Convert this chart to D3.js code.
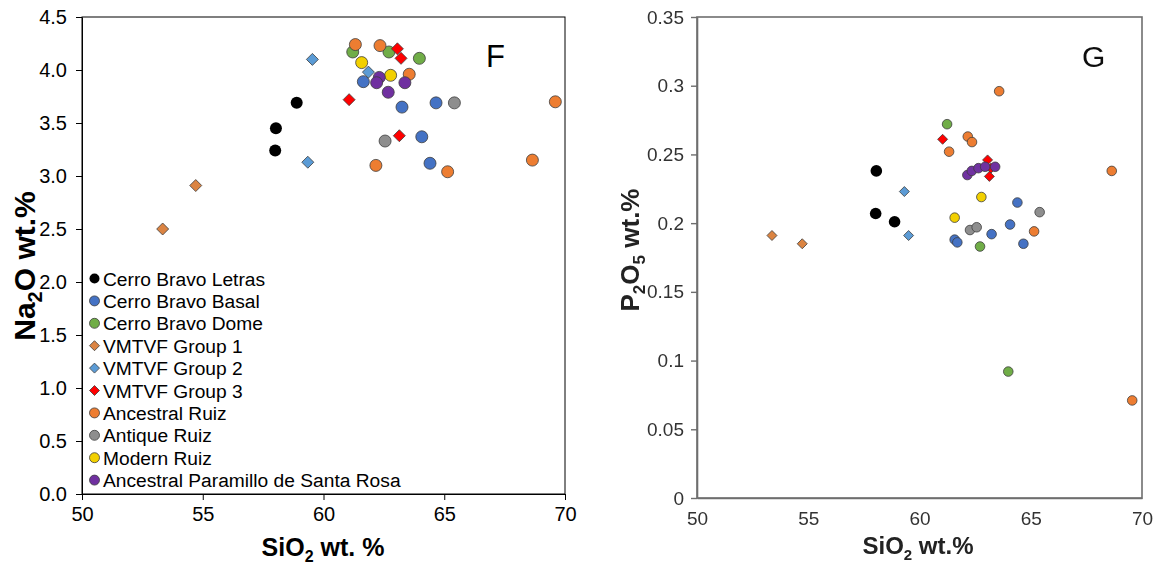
<!DOCTYPE html>
<html>
<head>
<meta charset="utf-8">
<script src="https://cdn.jsdelivr.net/npm/d3@7"></script>
<style>
  html, body { margin: 0; padding: 0; background: #fff; }
  svg { display: block; font-family: "Liberation Sans", Arial, sans-serif; }
</style>
</head>
<body>
<svg id="fig" width="1160" height="567"></svg>
<script>
// ---- Series definitions ----
const seriesNames = [
  "Cerro Bravo Letras", "Cerro Bravo Basal", "Cerro Bravo Dome",
  "VMTVF Group 1", "VMTVF Group 2", "VMTVF Group 3",
  "Ancestral Ruiz", "Antique Ruiz", "Modern Ruiz",
  "Ancestral Paramillo de Santa Rosa"
];
const seriesColors = [
  "#000000", "#4472C4", "#70AD47",
  "#DB8443", "#5B9BD5", "#FF0000",
  "#ED7D31", "#8E8E8E", "#F2D000",
  "#7030A0"
];
const seriesShapes = [
  "circle", "circle", "circle",
  "diamond", "diamond", "diamond",
  "circle", "circle", "circle",
  "circle"
];

// ---- Panel F: SiO2 vs Na2O (wt.%) ----
const letrasNa2O    = [[58.89, 3.69], [58.03, 3.45], [58.00, 3.24]];
const basalNa2O     = [[61.65, 3.89], [63.25, 3.65], [64.66, 3.69], [64.07, 3.37], [64.41, 3.12]];
const domeNa2O      = [[61.21, 4.17], [62.71, 4.17], [63.97, 4.11]];
const group1Na2O    = [[54.71, 2.91], [53.34, 2.50]];
const group2Na2O    = [[59.35, 3.13], [61.86, 3.98], [59.54, 4.10]];
const group3Na2O    = [[63.06, 4.20], [63.21, 4.11], [61.06, 3.72], [63.14, 3.38]];
const ancRuizNa2O   = [[61.32, 4.24], [62.34, 4.23], [63.55, 3.96], [62.17, 3.10], [65.14, 3.04], [69.60, 3.70], [68.65, 3.15]];
const antRuizNa2O   = [[65.42, 3.69], [62.55, 3.33]];
const modRuizNa2O   = [[61.58, 4.07], [62.78, 3.95]];
const paramilloNa2O = [[62.31, 3.93], [62.20, 3.88], [63.37, 3.88], [62.68, 3.79]];

// ---- Panel G: SiO2 vs P2O5 (wt.%) ----
const letrasP2O5    = [[58.06, 0.238], [58.03, 0.207], [58.88, 0.201]];
const basalP2O5     = [[61.58, 0.188], [61.70, 0.186], [63.24, 0.192], [64.67, 0.185], [64.07, 0.199], [64.40, 0.215]];
const domeP2O5      = [[61.24, 0.272], [62.72, 0.183], [63.99, 0.092]];
const group1P2O5    = [[53.37, 0.191], [54.73, 0.185]];
const group2P2O5    = [[59.32, 0.223], [59.51, 0.191]];
const group3P2O5    = [[61.04, 0.261], [63.06, 0.246], [63.21, 0.240], [63.14, 0.234]];
const ancRuizP2O5   = [[62.17, 0.263], [61.33, 0.252], [62.36, 0.259], [63.58, 0.296], [65.15, 0.194], [68.64, 0.238], [69.56, 0.071]];
const antRuizP2O5   = [[62.27, 0.195], [62.57, 0.197], [65.40, 0.208]];
const modRuizP2O5   = [[61.58, 0.204], [62.78, 0.219]];
const paramilloP2O5 = [[62.15, 0.235], [62.35, 0.238], [62.65, 0.240], [62.95, 0.241], [63.40, 0.241]];

// ---- Axis ticks ----
const xTicks = [50, 55, 60, 65, 70];
const xTickLabels = ["50", "55", "60", "65", "70"];
const na2oTicks = [0, 0.5, 1, 1.5, 2, 2.5, 3, 3.5, 4, 4.5];
const na2oTickLabels = ["0.0", "0.5", "1.0", "1.5", "2.0", "2.5", "3.0", "3.5", "4.0", "4.5"];
const p2o5Ticks = [0, 0.05, 0.1, 0.15, 0.2, 0.25, 0.3, 0.35];
const p2o5TickLabels = ["0", "0.05", "0.1", "0.15", "0.2", "0.25", "0.3", "0.35"];

const na2oSets = [letrasNa2O, basalNa2O, domeNa2O, group1Na2O, group2Na2O, group3Na2O,
                  ancRuizNa2O, antRuizNa2O, modRuizNa2O, paramilloNa2O];
const p2o5Sets = [letrasP2O5, basalP2O5, domeP2O5, group1P2O5, group2P2O5, group3P2O5,
                  ancRuizP2O5, antRuizP2O5, modRuizP2O5, paramilloP2O5];

const svg = d3.select("#fig");
const defs = svg.append("defs");
defs.append("filter").attr("id", "soft")
  .attr("x", "-5%").attr("y", "-5%").attr("width", "110%").attr("height", "110%")
  .append("feGaussianBlur").attr("stdDeviation", 0.75);

// square turned 45 degrees
function diamondPath(h) {
  return `M0,${-h}L${h},0L0,${h}L${-h},0Z`;
}

function drawMarker(g, shape, color, x, y, r, outline) {
  if (shape === "diamond") {
    g.append("path")
      .attr("d", diamondPath(r))
      .attr("transform", `translate(${x},${y})`)
      .attr("fill", color)
      .attr("stroke", outline ? "#3d3d3d" : "none")
      .attr("stroke-width", 0.8);
  } else {
    g.append("circle")
      .attr("cx", x).attr("cy", y).attr("r", r)
      .attr("fill", color)
      .attr("stroke", (outline && color !== "#000000") ? "#3d3d3d" : "none")
      .attr("stroke-width", 0.8);
  }
}

// ================= Panel F =================
const xF = d3.scaleLinear().domain([50, 70]).range([82, 565]);
const yF = d3.scaleLinear().domain([0, 4.5]).range([494, 17]);
const gF = svg.append("g");

gF.append("rect")
  .attr("x", xF(50)).attr("y", yF(4.5))
  .attr("width", xF(70) - xF(50)).attr("height", yF(0) - yF(4.5))
  .attr("fill", "none").attr("stroke", "#000").attr("stroke-width", 1);

const axFx = gF.append("g").attr("transform", `translate(0,${yF(0)})`)
  .call(d3.axisBottom(xF).tickValues(xTicks)
    .tickFormat((d, i) => xTickLabels[i]).tickSize(6).tickPadding(7).tickSizeOuter(0));
const axFy = gF.append("g").attr("transform", `translate(${xF(50)},0)`)
  .call(d3.axisLeft(yF).tickValues(na2oTicks)
    .tickFormat((d, i) => na2oTickLabels[i]).tickSize(6).tickPadding(9).tickSizeOuter(0));
[axFx, axFy].forEach(a => {
  a.select(".domain").attr("stroke", "#000");
  a.selectAll(".tick line").attr("stroke", "#000");
  a.selectAll(".tick text").attr("font-size", 20).attr("fill", "#000")
    .attr("font-family", "Liberation Sans, Arial, sans-serif");
});

// axis titles
gF.append("text")
  .attr("transform", `translate(35,${266}) rotate(-90)`)
  .attr("text-anchor", "middle").attr("font-size", 30).attr("font-weight", "bold")
  .call(t => {
    t.append("tspan").text("Na");
    t.append("tspan").text("2").attr("font-size", 20).attr("dy", 7);
    t.append("tspan").text("O wt.%").attr("dy", -7);
  });
gF.append("text")
  .attr("x", 323).attr("y", 556)
  .attr("text-anchor", "middle").attr("font-size", 25).attr("font-weight", "bold")
  .call(t => {
    t.append("tspan").text("SiO");
    t.append("tspan").text("2").attr("font-size", 16).attr("dy", 6);
    t.append("tspan").text(" wt. %").attr("dy", -6);
  });
gF.append("text").attr("x", 486).attr("y", 67)
  .attr("font-size", 31).text("F");

// points
seriesNames.forEach((name, i) => {
  na2oSets[i].forEach(([si, na]) => {
    drawMarker(gF, seriesShapes[i], seriesColors[i], xF(si), yF(na), 6, true);
  });
});

// legend
const legend = gF.append("g");
seriesNames.forEach((name, i) => {
  const y = 278.5 + i * 22.4;
  drawMarker(legend, seriesShapes[i], seriesColors[i], 94.5, y, 5, true);
  legend.append("text").attr("x", 103).attr("y", y + 7)
    .attr("font-size", 19.2).attr("fill", "#000").text(name);
});

// ================= Panel G =================
const xG = d3.scaleLinear().domain([50, 70]).range([697, 1142]);
const yG = d3.scaleLinear().domain([0, 0.35]).range([498, 17]);
const gG = svg.append("g").attr("filter", "url(#soft)");

gG.append("rect")
  .attr("x", xG(50)).attr("y", yG(0.35))
  .attr("width", xG(70) - xG(50)).attr("height", yG(0) - yG(0.35))
  .attr("fill", "none").attr("stroke", "#6e6e6e").attr("stroke-width", 1.6);

const axGx = gG.append("g").attr("transform", `translate(0,${yG(0)})`)
  .call(d3.axisBottom(xG).tickValues(xTicks)
    .tickFormat((d, i) => xTickLabels[i]).tickSize(0).tickPadding(14).tickSizeOuter(0));
const axGy = gG.append("g").attr("transform", `translate(${xG(50)},0)`)
  .call(d3.axisLeft(yG).tickValues(p2o5Ticks)
    .tickFormat((d, i) => p2o5TickLabels[i]).tickSize(6).tickPadding(7).tickSizeOuter(0));
[axGx, axGy].forEach(a => {
  a.select(".domain").attr("stroke", "#6e6e6e").attr("stroke-width", 1.6);
  a.selectAll(".tick line").attr("stroke", "#6e6e6e").attr("stroke-width", 1.4);
  a.selectAll(".tick text").attr("font-size", 19).attr("fill", "#333")
    .attr("font-family", "Liberation Sans, Arial, sans-serif");
});

gG.append("text")
  .attr("transform", `translate(639,${250}) rotate(-90)`)
  .attr("text-anchor", "middle").attr("font-size", 26).attr("font-weight", "bold").attr("fill", "#222")
  .call(t => {
    t.append("tspan").text("P");
    t.append("tspan").text("2").attr("font-size", 17).attr("dy", 6);
    t.append("tspan").text("O").attr("dy", -6);
    t.append("tspan").text("5").attr("font-size", 17).attr("dy", 6);
    t.append("tspan").text(" wt.%").attr("dy", -6);
  });
gG.append("text")
  .attr("x", 918).attr("y", 554)
  .attr("text-anchor", "middle").attr("font-size", 24).attr("font-weight", "bold").attr("fill", "#222")
  .call(t => {
    t.append("tspan").text("SiO");
    t.append("tspan").text("2").attr("font-size", 15).attr("dy", 6);
    t.append("tspan").text(" wt.%").attr("dy", -6);
  });
gG.append("text").attr("x", 1082).attr("y", 67)
  .attr("font-size", 30).attr("fill", "#111").text("G");

seriesNames.forEach((name, i) => {
  const r = i === 0 ? 5.8 : 4.8;
  p2o5Sets[i].forEach(([si, p]) => {
    drawMarker(gG, seriesShapes[i], seriesColors[i], xG(si), yG(p), seriesShapes[i] === "diamond" ? 5 : r, true);
  });
});
</script>
</body>
</html>
